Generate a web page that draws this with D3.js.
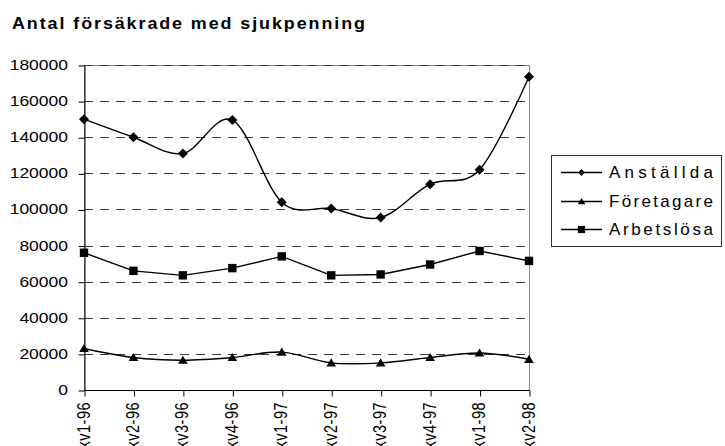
<!DOCTYPE html>
<html>
<head>
<meta charset="utf-8">
<script src="https://cdn.jsdelivr.net/npm/d3@7"></script>
<style>
  html, body { margin: 0; padding: 0; background: #fff; }
  svg { display: block; font-family: Arial, "Liberation Sans", sans-serif; }
</style>
</head>
<body>
<script>
// Quarterly counts of insured persons receiving sickness benefit
const categories = ["kv1-96", "kv2-96", "kv3-96", "kv4-96", "kv1-97", "kv2-97", "kv3-97", "kv4-97", "kv1-98", "kv2-98"];
const anstallda  = [150000, 140000, 131000, 149500, 104000, 100500, 95500, 114000, 122000, 173500];
const foretagare = [23000, 18000, 16500, 18000, 21000, 15000, 15000, 18000, 20500, 17000];
const arbetslosa = [76000, 66000, 63500, 67500, 74000, 63500, 64000, 69500, 77000, 71500];
const seriesNames = ["Anställda", "Företagare", "Arbetslösa"];
const yTicks = [0, 20000, 40000, 60000, 80000, 100000, 120000, 140000, 160000, 180000];
const titleText = "Antal försäkrade med sjukpenning";

const W = 725, H = 446;
const plot = { left: 84, right: 529, top: 65, bottom: 390 };

const svg = d3.select("body").append("svg").attr("width", W).attr("height", H);

const x = d3.scalePoint().domain(categories).range([plot.left, plot.right]);
const y = d3.scaleLinear().domain([0, 180000]).range([plot.bottom, plot.top]);

// Title, slightly widened glyphs
svg.append("text")
  .attr("transform", "translate(12,29) scale(1.12,1)")
  .attr("font-size", 16).attr("font-weight", "bold").attr("fill", "#000")
  .attr("textLength", 353 / 1.12).attr("lengthAdjust", "spacing")
  .text(titleText);

// Plot frame (top and right edges in grey)
svg.append("rect")
  .attr("x", plot.left + 0.5).attr("y", plot.top + 0.5)
  .attr("width", plot.right - plot.left).attr("height", plot.bottom - plot.top)
  .attr("fill", "none").attr("stroke", "#8c8c8c").attr("stroke-width", 1);

// Dashed gridlines
svg.append("g").selectAll("line")
  .data(yTicks.filter(d => d > 0))
  .join("line")
  .attr("x1", plot.left).attr("x2", plot.right)
  .attr("y1", d => Math.round(y(d)) + 0.5).attr("y2", d => Math.round(y(d)) + 0.5)
  .attr("stroke", "#3a3a3a").attr("stroke-width", 1)
  .attr("stroke-dasharray", "9,7");

// Y axis
const yAxis = svg.append("g")
  .attr("transform", `translate(${plot.left + 0.5},0.5)`)
  .call(d3.axisLeft(y).tickValues(yTicks).tickSize(6).tickSizeOuter(0).tickFormat(d3.format("d")));
yAxis.select(".domain").attr("stroke", "#000");
yAxis.selectAll(".tick line").attr("stroke", "#000");
yAxis.selectAll(".tick text").remove();

// Y tick labels, slightly widened glyphs
svg.append("g").selectAll("text")
  .data(yTicks)
  .join("text")
  .attr("transform", d => `translate(68,${y(d)}) scale(1.25,1)`)
  .attr("text-anchor", "end").attr("dy", "0.36em")
  .attr("font-size", 14).attr("fill", "#000")
  .text(d => d3.format("d")(d));

// X axis
const xAxis = svg.append("g")
  .attr("transform", `translate(0.5,${plot.bottom + 0.5})`)
  .call(d3.axisBottom(x).tickSize(6).tickSizeOuter(0));
xAxis.select(".domain").attr("stroke", "#000").attr("d", `M${plot.left},0H${plot.right}`);
xAxis.selectAll(".tick line").attr("stroke", "#000");
xAxis.selectAll(".tick text").remove();

// Rotated category labels (running past the bottom edge of the canvas)
svg.append("g").selectAll("text")
  .data(categories)
  .join("text")
  .attr("transform", d => `translate(${x(d) - 1},402) scale(1.25,1) rotate(-90)`)
  .attr("text-anchor", "end").attr("dy", "0.36em")
  .attr("font-size", 14.5).attr("letter-spacing", 0.5).attr("fill", "#000")
  .text(d => d);

// Series
const series = [
  { name: seriesNames[0], values: anstallda,  curve: d3.curveCardinal.tension(0), marker: "diamond" },
  { name: seriesNames[1], values: foretagare, curve: d3.curveCardinal.tension(0), marker: "triangle" },
  { name: seriesNames[2], values: arbetslosa, curve: d3.curveLinear, marker: "square" }
];

const markerPath = (type, s) => {
  if (type === "diamond") return `M0,${-s}L${s},0L0,${s}L${-s},0Z`;
  if (type === "triangle") return `M0,${-s * 0.95}L${s},${s * 0.75}L${-s},${s * 0.75}Z`;
  return `M${-s},${-s}H${s}V${s}H${-s}Z`;
};
const markerSize = { diamond: 5, triangle: 4.8, square: 4.2 };
const legendMarkerSize = { diamond: 3.4, triangle: 3.8, square: 3.6 };

series.forEach(s => {
  const line = d3.line()
    .x((d, i) => x(categories[i]))
    .y(d => y(d))
    .curve(s.curve);
  svg.append("path")
    .datum(s.values)
    .attr("d", line)
    .attr("fill", "none").attr("stroke", "#000").attr("stroke-width", 1.4);
  svg.append("g").selectAll("path")
    .data(s.values)
    .join("path")
    .attr("transform", (d, i) => `translate(${x(categories[i])},${y(d)})`)
    .attr("d", markerPath(s.marker, markerSize[s.marker]))
    .attr("fill", "#000");
});

// Legend
const legend = svg.append("g");
legend.append("rect")
  .attr("x", 551.5).attr("y", 155.5).attr("width", 170).attr("height", 91)
  .attr("fill", "#fff").attr("stroke", "#333").attr("stroke-width", 1);
const legendY = [172.5, 201.5, 229.5];
series.forEach((s, i) => {
  const g = legend.append("g").attr("transform", `translate(0,${legendY[i]})`);
  g.append("line").attr("x1", 561).attr("x2", 602).attr("y1", 0).attr("y2", 0)
    .attr("stroke", "#000").attr("stroke-width", 1.3);
  g.append("path").attr("transform", "translate(581.5,0)")
    .attr("d", markerPath(s.marker, legendMarkerSize[s.marker])).attr("fill", "#000");
  g.append("text").attr("x", 609).attr("y", 5.5)
    .attr("font-size", 17).attr("fill", "#000")
    .attr("textLength", 104).attr("lengthAdjust", "spacing")
    .text(s.name);
});
</script>
</body>
</html>
